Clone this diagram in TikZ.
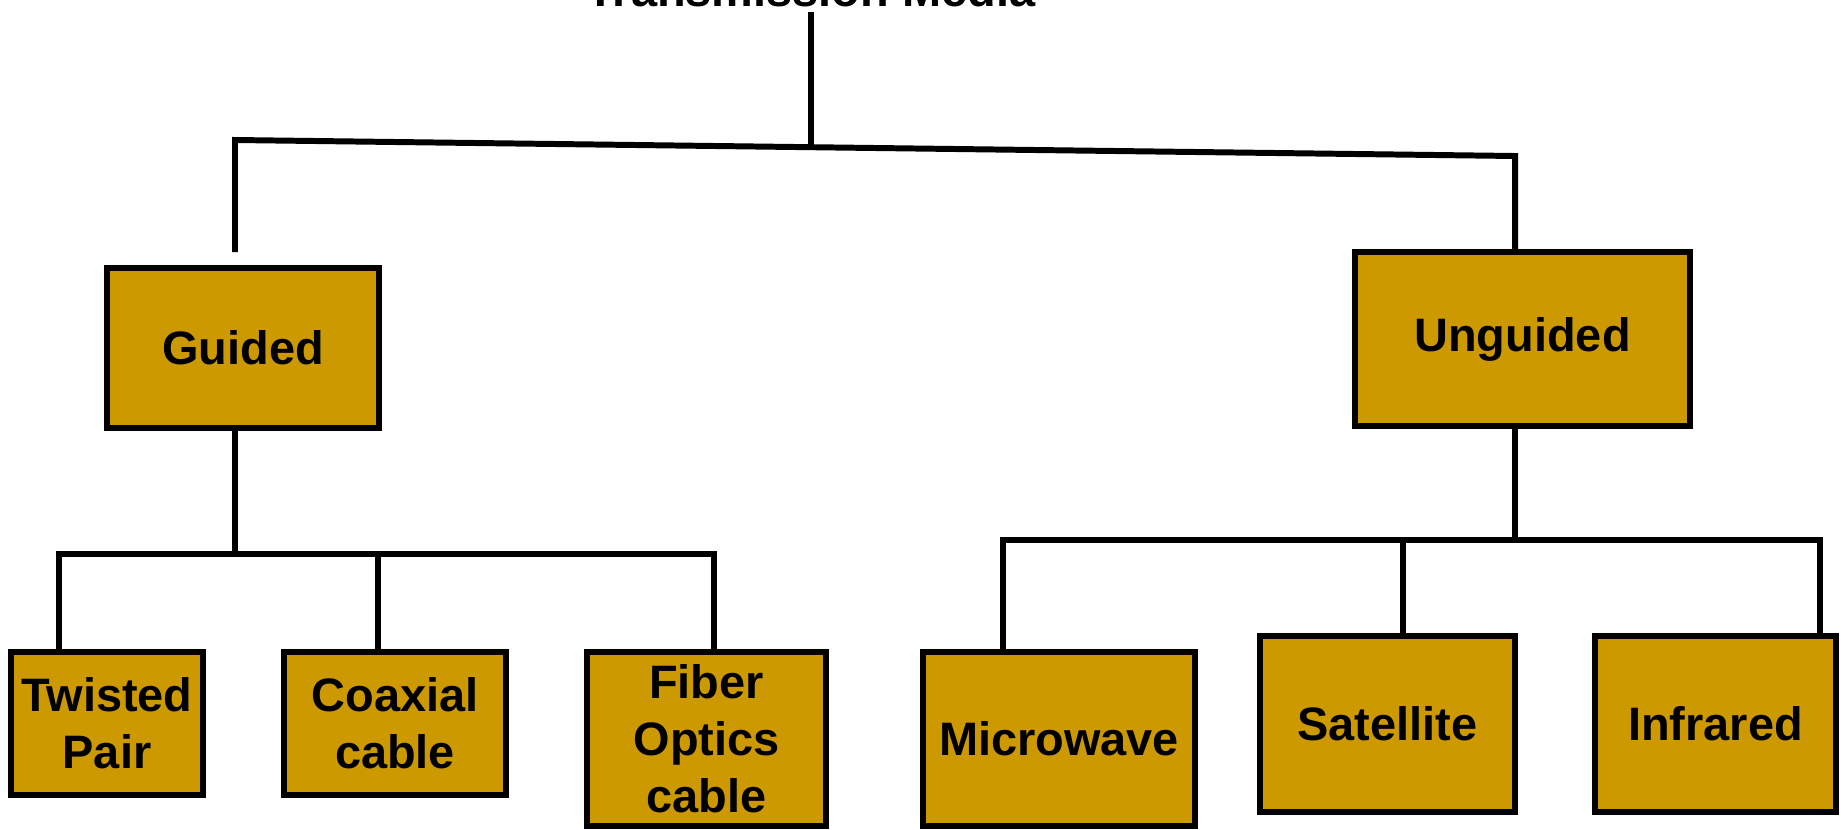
\documentclass[tikz,border=0pt]{standalone}
\usepackage{fontspec}
\setmainfont{Liberation Sans}
\usepackage{tikz}
\usetikzlibrary{positioning}
\definecolor{boxGold}{RGB}{204,153,0}

\begin{document}
\begin{tikzpicture}[x=0.02cm, y=-0.02cm,
  box/.style 2 args={draw, line width=3.4pt, fill=boxGold, align=center, inner sep=0pt,
    minimum width=#1*0.02cm, minimum height=#2*0.02cm,
    font=\fontsize{26.7}{32.4}\selectfont\bfseries},
  link/.style={line width=3.4pt}]
  \useasboundingbox (0,0) rectangle (1841,829);

  % Root (cut at the top edge)
  \node[anchor=base, inner sep=0pt, font=\fontsize{26.7}{32.4}\selectfont\bfseries] (media) at (811,6) {Transmission Media};

  % Second level
  \node[box={272}{160}] (guided)   at (243,348)    {Guided};
  \node[box={335}{174}] (unguided) at (1522.5,339) {Unguided};

  % Guided media
  \node[box={192}{143}] (twisted) at (107,723.5)   {Twisted\\Pair};
  \node[box={222}{143}] (coaxial) at (395,723.5)   {Coaxial\\cable};
  \node[box={239}{174}] (fiber)   at (706.5,739)   {Fiber\\Optics\\cable};

  % Unguided media
  \node[box={272}{174}] (microwave) at (1059,739)   {Microwave};
  \node[box={255}{176}] (satellite) at (1387.5,724) {Satellite};
  \node[box={241}{176}] (infrared)  at (1715.5,724) {Infrared};

  % Junctions
  \coordinate (top) at (811,12);
  \coordinate (tj)  at (811,147);
  \coordinate (lj)  at (235,140);
  \coordinate (rj)  at (1515,156);
  \coordinate (ge)  at (235,252);
  \coordinate (gj)  at (235,554);
  \coordinate (tp)  at (59,554);
  \coordinate (cx)  at (378,554);
  \coordinate (fo)  at (714,554);
  \coordinate (uj)  at (1515,540);
  \coordinate (mw)  at (1003,540);
  \coordinate (st)  at (1403,540);
  \coordinate (ir)  at (1820,540);

  % Top level
  \draw[link] (top) -- (tj);
  \draw[link] (ge) -- (lj) -- (rj) -- (rj |- unguided.north);

  % Guided branch
  \draw[link] (guided.south -| gj) -- (gj);
  \draw[link] (twisted.north -| tp) -- (tp) -- (fo) -- (fo |- fiber.north);
  \draw[link] (cx) -- (cx |- coaxial.north);

  % Unguided branch
  \draw[link] (unguided.south -| uj) -- (uj);
  \draw[link] (microwave.north -| mw) -- (mw) -- (ir) -- (ir |- infrared.north);
  \draw[link] (st) -- (st |- satellite.north);
\end{tikzpicture}
\end{document}
